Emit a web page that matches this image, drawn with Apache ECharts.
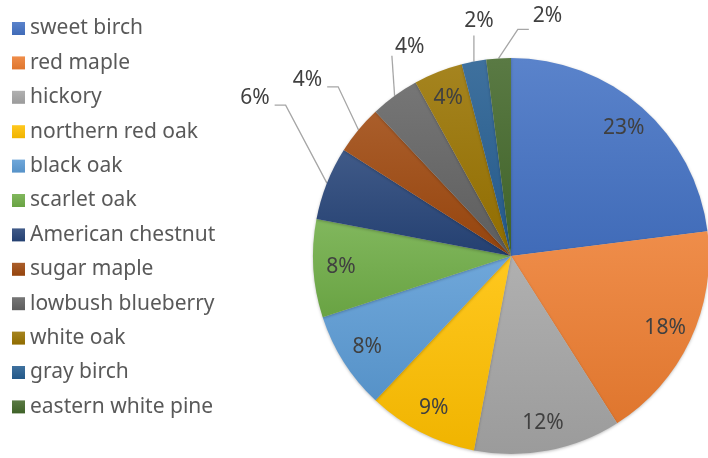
<!DOCTYPE html>
<html>
<head>
<meta charset="utf-8">
<script src="https://cdn.jsdelivr.net/npm/echarts@6/dist/echarts.min.js"></script>
<style>html,body{margin:0;padding:0;background:#fff}#c{width:708px;height:458px}</style>
</head>
<body>
<div id="c"></div>
<script>
const categories = ["sweet birch","red maple","hickory","northern red oak","black oak","scarlet oak","American chestnut","sugar maple","lowbush blueberry","white oak","gray birch","eastern white pine"];
const values = [23, 18, 12, 9, 8, 8, 6, 4, 4, 4, 2, 2];
const colors = ["#4472C4","#ED7D31","#A5A5A5","#FFC000","#5B9BD5","#70AD47","#264478","#9E480E","#636363","#997300","#255E91","#43682B"];
const outsideLabel = [false,false,false,false,false,false,true,true,true,false,true,true];
// style: offset of each outside label from its slice's edge point, and which side the leader attaches to
const labelOffset = {6: [-72, -85, "left"], 7: [-51, -50, "left"], 8: [15, -49, "belowLeft"], 10: [5, -40, "below"], 11: [49, -42, "right"]};

function mix(hex, t) {
  const n = parseInt(hex.slice(1), 16);
  let r = (n >> 16) & 255, g = (n >> 8) & 255, b = n & 255;
  const f = c => t >= 0 ? Math.round(c + (255 - c) * t) : Math.round(c * (1 + t));
  return "rgb(" + f(r) + "," + f(g) + "," + f(b) + ")";
}
const FONT = "Noto Sans";
const pct = p => Math.round(p.percent) + "%";
const center = [511, 256];
const R = 198;

const mainData = categories.map((name, i) => ({
  name, value: values[i],
  itemStyle: {
    color: {type: "linear", x: 0, y: 0, x2: 0, y2: 1,
      colorStops: [{offset: 0, color: mix(colors[i], 0.12)}, {offset: 1, color: mix(colors[i], -0.06)}]}
  },
  label: {show: outsideLabel[i]},
  labelLine: {show: outsideLabel[i]}
}));
const overlayData = categories.map((name, i) => ({
  name, value: values[i],
  label: {show: !outsideLabel[i]}
}));

function layoutLabel(p) {
  const o = labelOffset[p.dataIndex];
  if (!o || !p.labelLinePoints) return {};
  const p0 = p.labelLinePoints[0];
  const cx = p0[0] + o[0], cy = p0[1] + o[1];
  const w = p.labelRect.width;
  const left = cx - w / 2, right = cx + w / 2, bottom = cy + 8;
  let pts;
  if (o[2] === "left") {
    const end = [right + 5, cy + 7];
    pts = [p0, [end[0] + 11, end[1]], end];
  } else if (o[2] === "right") {
    const end = [left - 4, cy + 13];
    pts = [p0, [end[0] - 11, end[1]], end];
  } else if (o[2] === "belowLeft") {
    const end = [left - 3, bottom + 1];
    pts = [p0, end, end];
  } else {
    const end = [p0[0], bottom + 6];
    pts = [p0, end, end];
  }
  return {x: cx, y: cy, align: "center", verticalAlign: "middle", labelLinePoints: pts};
}

const chart = echarts.init(document.getElementById("c"), null, {renderer: "canvas"});
chart.setOption({
  animation: false,
  color: colors,
  legend: {
    orient: "vertical", left: 12, top: 18, padding: 0,
    data: categories,
    icon: "rect", itemWidth: 13, itemHeight: 13, itemGap: 13.4,
    selectedMode: false,
    textStyle: {fontFamily: FONT, fontSize: 21, color: "#595959", lineHeight: 20}
  },
  series: [{
    type: "pie", center: center, radius: [0, R],
    startAngle: 90, clockwise: true,
    data: mainData,
    itemStyle: {borderWidth: 0, shadowBlur: 3, shadowOffsetY: 1, shadowColor: "rgba(0,0,0,0.25)"},
    label: {position: "outside", formatter: pct, fontFamily: FONT, fontSize: 21, color: "#404040", distanceToLabelLine: 3},
    labelLine: {length: 28, length2: 10, lineStyle: {color: "#A6A6A6", width: 1.3}},
    labelLayout: layoutLabel,
    emphasis: {disabled: true}
  }, {
    type: "pie", center: center, radius: [R * 0.69, R],
    startAngle: 90, clockwise: true, silent: true,
    data: overlayData,
    itemStyle: {color: "rgba(0,0,0,0)"},
    label: {position: "inside", formatter: pct, fontFamily: FONT, fontSize: 21, color: "#404040"},
    labelLine: {show: false},
    emphasis: {disabled: true}
  }]
});
</script>
</body>
</html>
